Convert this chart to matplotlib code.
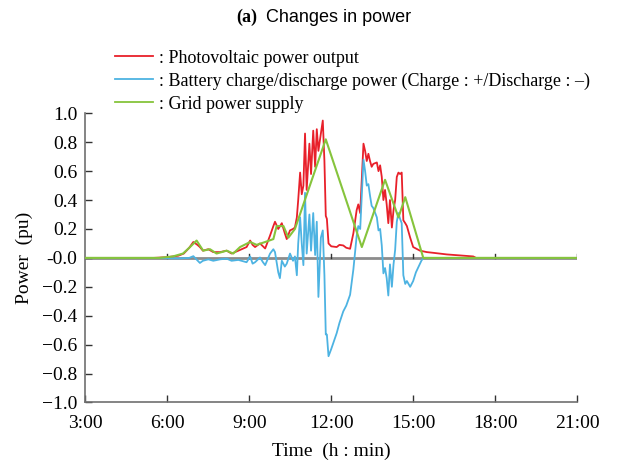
import matplotlib
matplotlib.use('Agg')
import matplotlib.pyplot as plt
import numpy as np

# time in hours (decimal), values in pu
pv_time = [3.0, 5.5, 6.0, 6.4, 6.6, 6.8, 6.95, 7.1, 7.19, 7.3, 7.5, 7.68, 7.93, 8.17, 8.35,
           8.6, 8.9, 9.03, 9.12, 9.21, 9.39, 9.5, 9.58, 9.76, 9.88, 9.94, 10.06, 10.19, 10.3,
           10.37, 10.49, 10.6, 10.67, 10.74, 10.79, 10.86, 10.92, 10.98, 11.04, 11.1, 11.2,
           11.26, 11.34, 11.41, 11.47, 11.53, 11.62, 11.69, 11.75, 11.8, 11.84, 11.9, 12.0,
           12.2, 12.3, 12.44, 12.55, 12.69, 12.81, 12.93, 12.99, 13.06, 13.18, 13.24, 13.3,
           13.36, 13.42, 13.48, 13.54, 13.67, 13.73, 13.79, 13.85, 13.91, 13.97, 14.03, 14.09,
           14.15, 14.22, 14.28, 14.34, 14.4, 14.46, 14.52, 14.58, 14.64, 14.71, 14.77, 14.89,
           15.0, 15.25, 15.5, 15.74, 16.23, 16.72, 17.2, 17.3, 21.0]
pv_power = [0.0, 0.0, 0.005, 0.015, 0.03, 0.07, 0.11, 0.09, 0.075, 0.05, 0.06, 0.04, 0.04, 0.05, 0.03,
            0.05, 0.075, 0.12, 0.09, 0.075, 0.1, 0.08, 0.065, 0.155, 0.22, 0.25, 0.2, 0.24, 0.17,
            0.13, 0.19, 0.2, 0.21, 0.28, 0.4, 0.59, 0.44, 0.5, 0.86, 0.47, 0.79,
            0.58, 0.88, 0.63, 0.89, 0.74, 0.86, 0.95, 0.67, 0.29, 0.27, 0.1, 0.08,
            0.075, 0.09, 0.086, 0.07, 0.063, 0.17, 0.33, 0.37, 0.31, 0.79, 0.74, 0.67,
            0.72, 0.67, 0.63, 0.65, 0.66, 0.6, 0.64, 0.56, 0.4, 0.47, 0.37, 0.24,
            0.4, 0.21, 0.33, 0.4, 0.56, 0.59, 0.58, 0.59, 0.26, 0.24, 0.22, 0.14,
            0.075, 0.05, 0.04, 0.035, 0.024, 0.017, 0.01, 0.0, 0.0]

bat_time = [3.0, 5.5, 6.4, 6.8, 6.95, 7.19, 7.3, 7.5, 7.68, 7.93, 8.17, 8.35, 8.6, 8.9, 9.03,
            9.12, 9.21, 9.39, 9.5, 9.58, 9.76, 9.88, 9.94, 10.06, 10.12, 10.19, 10.3, 10.37,
            10.49, 10.6, 10.67, 10.74, 10.79, 10.86, 10.92, 10.98, 11.04, 11.1, 11.2, 11.26,
            11.34, 11.41, 11.47, 11.53, 11.62, 11.69, 11.75, 11.8, 11.84, 11.9, 12.0, 12.2,
            12.3, 12.44, 12.55, 12.69, 12.81, 12.93, 12.99, 13.06, 13.18, 13.24, 13.3, 13.36,
            13.42, 13.48, 13.54, 13.67, 13.73, 13.79, 13.85, 13.91, 13.97, 14.03, 14.09, 14.15,
            14.22, 14.28, 14.34, 14.4, 14.46, 14.52, 14.58, 14.64, 14.71, 14.77, 14.89, 15.0,
            15.1, 15.2, 15.3, 15.37, 21.0]
bat_power = [0.0, 0.0, -0.004, 0.0, 0.012, -0.035, -0.02, -0.01, -0.02, -0.01, -0.005, -0.02, -0.014, -0.03, 0.01,
             -0.04, -0.03, 0.003, -0.03, -0.05, 0.03, 0.06, 0.04, -0.1, -0.14, -0.02, -0.06, -0.04,
             0.03, -0.02, 0.01, -0.12, 0.1, 0.28, 0.1, -0.05, 0.45, 0.03, 0.3, 0.05,
             0.31, 0.02, 0.25, -0.27, 0.14, 0.19, -0.12, -0.53, -0.53, -0.68, -0.63, -0.52,
             -0.45, -0.37, -0.33, -0.255, -0.08, 0.15, 0.22, 0.2, 0.68, 0.6, 0.5, 0.51,
             0.43, 0.36, 0.345, 0.28, 0.19, 0.2, 0.086, -0.107, -0.07, -0.14, -0.26, -0.045,
             -0.2, -0.046, 0.056, 0.25, 0.31, 0.27, 0.24, -0.12, -0.18, -0.16, -0.2, -0.16,
             -0.1, -0.06, -0.02, 0.0, 0.0]

grid_time = [3.0, 5.7, 6.2, 6.57, 6.8, 7.07, 7.31, 7.56, 7.8, 8.17, 8.41, 8.66, 9.03, 9.27,
             9.58, 9.88, 10.0, 10.25, 10.43, 10.67, 11.8, 13.12, 13.97, 14.46, 14.71, 15.37, 21.0]
grid_power = [0.0, 0.0, 0.01, 0.03, 0.07, 0.12, 0.05, 0.06, 0.03, 0.05, 0.03, 0.075, 0.11, 0.09,
              0.11, 0.13, 0.22, 0.22, 0.14, 0.2, 0.82, 0.075, 0.54, 0.28, 0.42, 0.0, 0.0]

hour_ticks = [3, 6, 9, 12, 15, 18, 21]
labels = [': Photovoltaic power output',
          ': Battery charge/discharge power (Charge : +/Discharge : \u2013)',
          ': Grid power supply']

serif = 'Liberation Serif'
plt.rcParams['font.family'] = serif

fig = plt.figure(figsize=(6.18, 4.63), dpi=100)
ax = fig.add_axes([0.1383, 0.1307, 0.7954, 0.6246])

ax.axhline(0, color='#8c8c8c', lw=2.0, zorder=1)
ax.plot(pv_time, pv_power, color='#e8202a', lw=1.3, label=labels[0], zorder=3)
ax.plot(bat_time, bat_power, color='#4db3e2', lw=1.3, label=labels[1], zorder=4)
ax.plot(grid_time, grid_power, color='#86c43c', lw=1.5, label=labels[2], zorder=5)

# small marks on the zero line
for h in hour_ticks[1:]:
    ax.plot([h, h], [0, 0.03], color='#333333', lw=1.0, zorder=2)

ax.set_xlim(3, 21)
ax.set_ylim(-1, 1)
ax.set_xticks(hour_ticks)
ax.set_xticklabels([f'{h}:00' for h in hour_ticks])
yt = np.round(np.arange(-1.0, 1.01, 0.2), 1)
ax.set_yticks(yt)
ax.set_yticklabels([f'\u2212{abs(v):.1f}' if v < 0 else f'{v:.1f}' for v in yt])

for side in ('top', 'right'):
    ax.spines[side].set_visible(False)
for side in ('left', 'bottom'):
    ax.spines[side].set_color('#707070')
    ax.spines[side].set_linewidth(1.2)
ax.tick_params(direction='in', length=5, width=1.0, color='#333333', labelsize=14, pad=6)
ax.tick_params(axis='x', pad=9)

ax.set_xlabel('Time  (h : min)', fontsize=14, labelpad=8)
ax.set_ylabel('Power  (pu)', fontsize=14, labelpad=6)

leg = ax.legend(loc='upper left', bbox_to_anchor=(0.186, 0.893), bbox_transform=fig.transFigure,
                frameon=False, fontsize=13.0, handlelength=2.1, handletextpad=0.33,
                labelspacing=0.33, borderpad=0, borderaxespad=0)
for line in leg.get_lines():
    line.set_linewidth(1.3)

fig.text(0.383, 0.963, '(a)', fontsize=13, fontweight='bold', family=serif, ha='left', va='center')
fig.text(0.431, 0.963, 'Changes in power', fontsize=13, family='Liberation Sans', ha='left', va='center')

fig.savefig('out.png', dpi=100)
